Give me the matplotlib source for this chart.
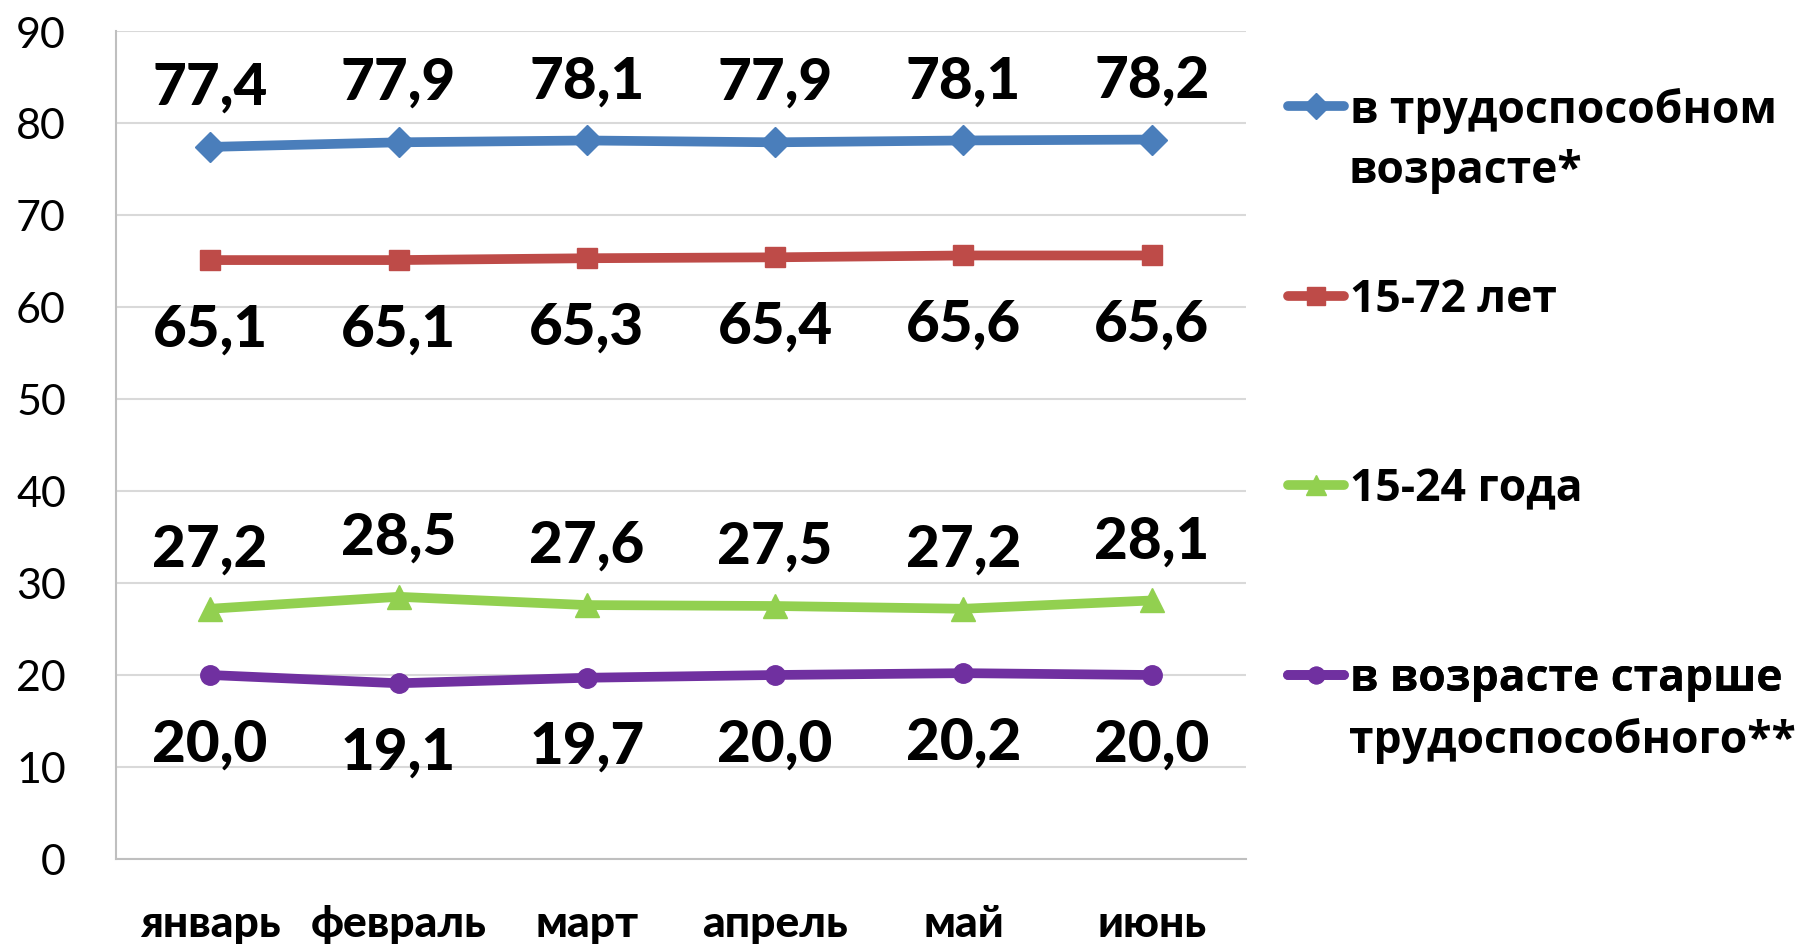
import matplotlib.pyplot as plt

# data
months = ["январь", "февраль", "март", "апрель", "май", "июнь"]
working_age = [77.4, 77.9, 78.1, 77.9, 78.1, 78.2]
age_15_72 = [65.1, 65.1, 65.3, 65.4, 65.6, 65.6]
age_15_24 = [27.2, 28.5, 27.6, 27.5, 27.2, 28.1]
older = [20.0, 19.1, 19.7, 20.0, 20.2, 20.0]

names = ["в трудоспособном\nвозрасте*", "15-72 лет", "15-24 года",
         "в возрасте старше\nтрудоспособного**"]
colors = ["#4A7EBB", "#BE4B48", "#92D050", "#7030A0"]
markers = ["D", "s", "^", "o"]
msizes = [15, 15, 17, 14]
label_side = [1, -1, 1, -1]   # +1 label above the point, -1 below
legend_y = [111, 301, 490, 680]   # pixel rows of the legend entries

plt.rcParams['font.family'] = ['Lato', 'DejaVu Sans']

fig = plt.figure(figsize=(18, 9.45), dpi=100)
ax = fig.add_axes([116 / 1800, 1 - 860 / 945, (1246 - 116) / 1800, (860 - 32) / 945])

x = range(len(months))
series = [working_age, age_15_72, age_15_24, older]
lines = []
for vals, name, c, m, ms, side in zip(series, names, colors, markers, msizes, label_side):
    ln, = ax.plot(x, vals, color=c, lw=7, marker=m, markersize=ms, label=name,
                  solid_capstyle='round')
    lines.append(ln)
    off = 43 if side > 0 else -49.5
    for xi, v in zip(x, vals):
        ax.annotate(f"{v:.1f}".replace(".", ","), (xi, v),
                    xytext=(0, off), textcoords="offset points",
                    ha="center", va="center", fontsize=42, fontweight="black")

ax.set_xlim(-0.5, 5.5)
ax.set_ylim(0, 90)
ax.set_yticks(range(0, 91, 10))
ax.set_xticks(list(x))
ax.set_xticklabels(months, fontsize=32, fontweight="black")
ax.tick_params(axis="y", labelsize=31, length=0, pad=36)
ax.tick_params(axis="x", length=0, pad=32)
ax.grid(axis="y", color="#D9D9D9", lw=1.5)
ax.set_axisbelow(True)
for s in ["top", "right"]:
    ax.spines[s].set_visible(False)
for s in ["left", "bottom"]:
    ax.spines[s].set_color("#BFBFBF")
    ax.spines[s].set_linewidth(1.5)

# legend: one entry per series, handle next to the first text line
leg_font = {"family": "Open Sans", "weight": "bold", "size": 32}
for ln, name, y in zip(lines, names, legend_y):
    parts = name.split("\n")
    leg = ax.legend([ln], [parts[0]], loc="center left",
                    bbox_to_anchor=(1288 / 1800, 1 - y / 945),
                    bbox_transform=fig.transFigure, frameon=False, prop=leg_font,
                    handlelength=1.26, handletextpad=0.13, borderpad=0,
                    borderaxespad=0, markerscale=0.85)
    ax.add_artist(leg)
    if len(parts) > 1:
        fig.text(1349 / 1800, 1 - (y + 61) / 945, parts[1], va="center",
                 ha="left", family="Open Sans", weight="bold",
                 fontsize=leg_font["size"])

fig.savefig("out.png", dpi=100)
